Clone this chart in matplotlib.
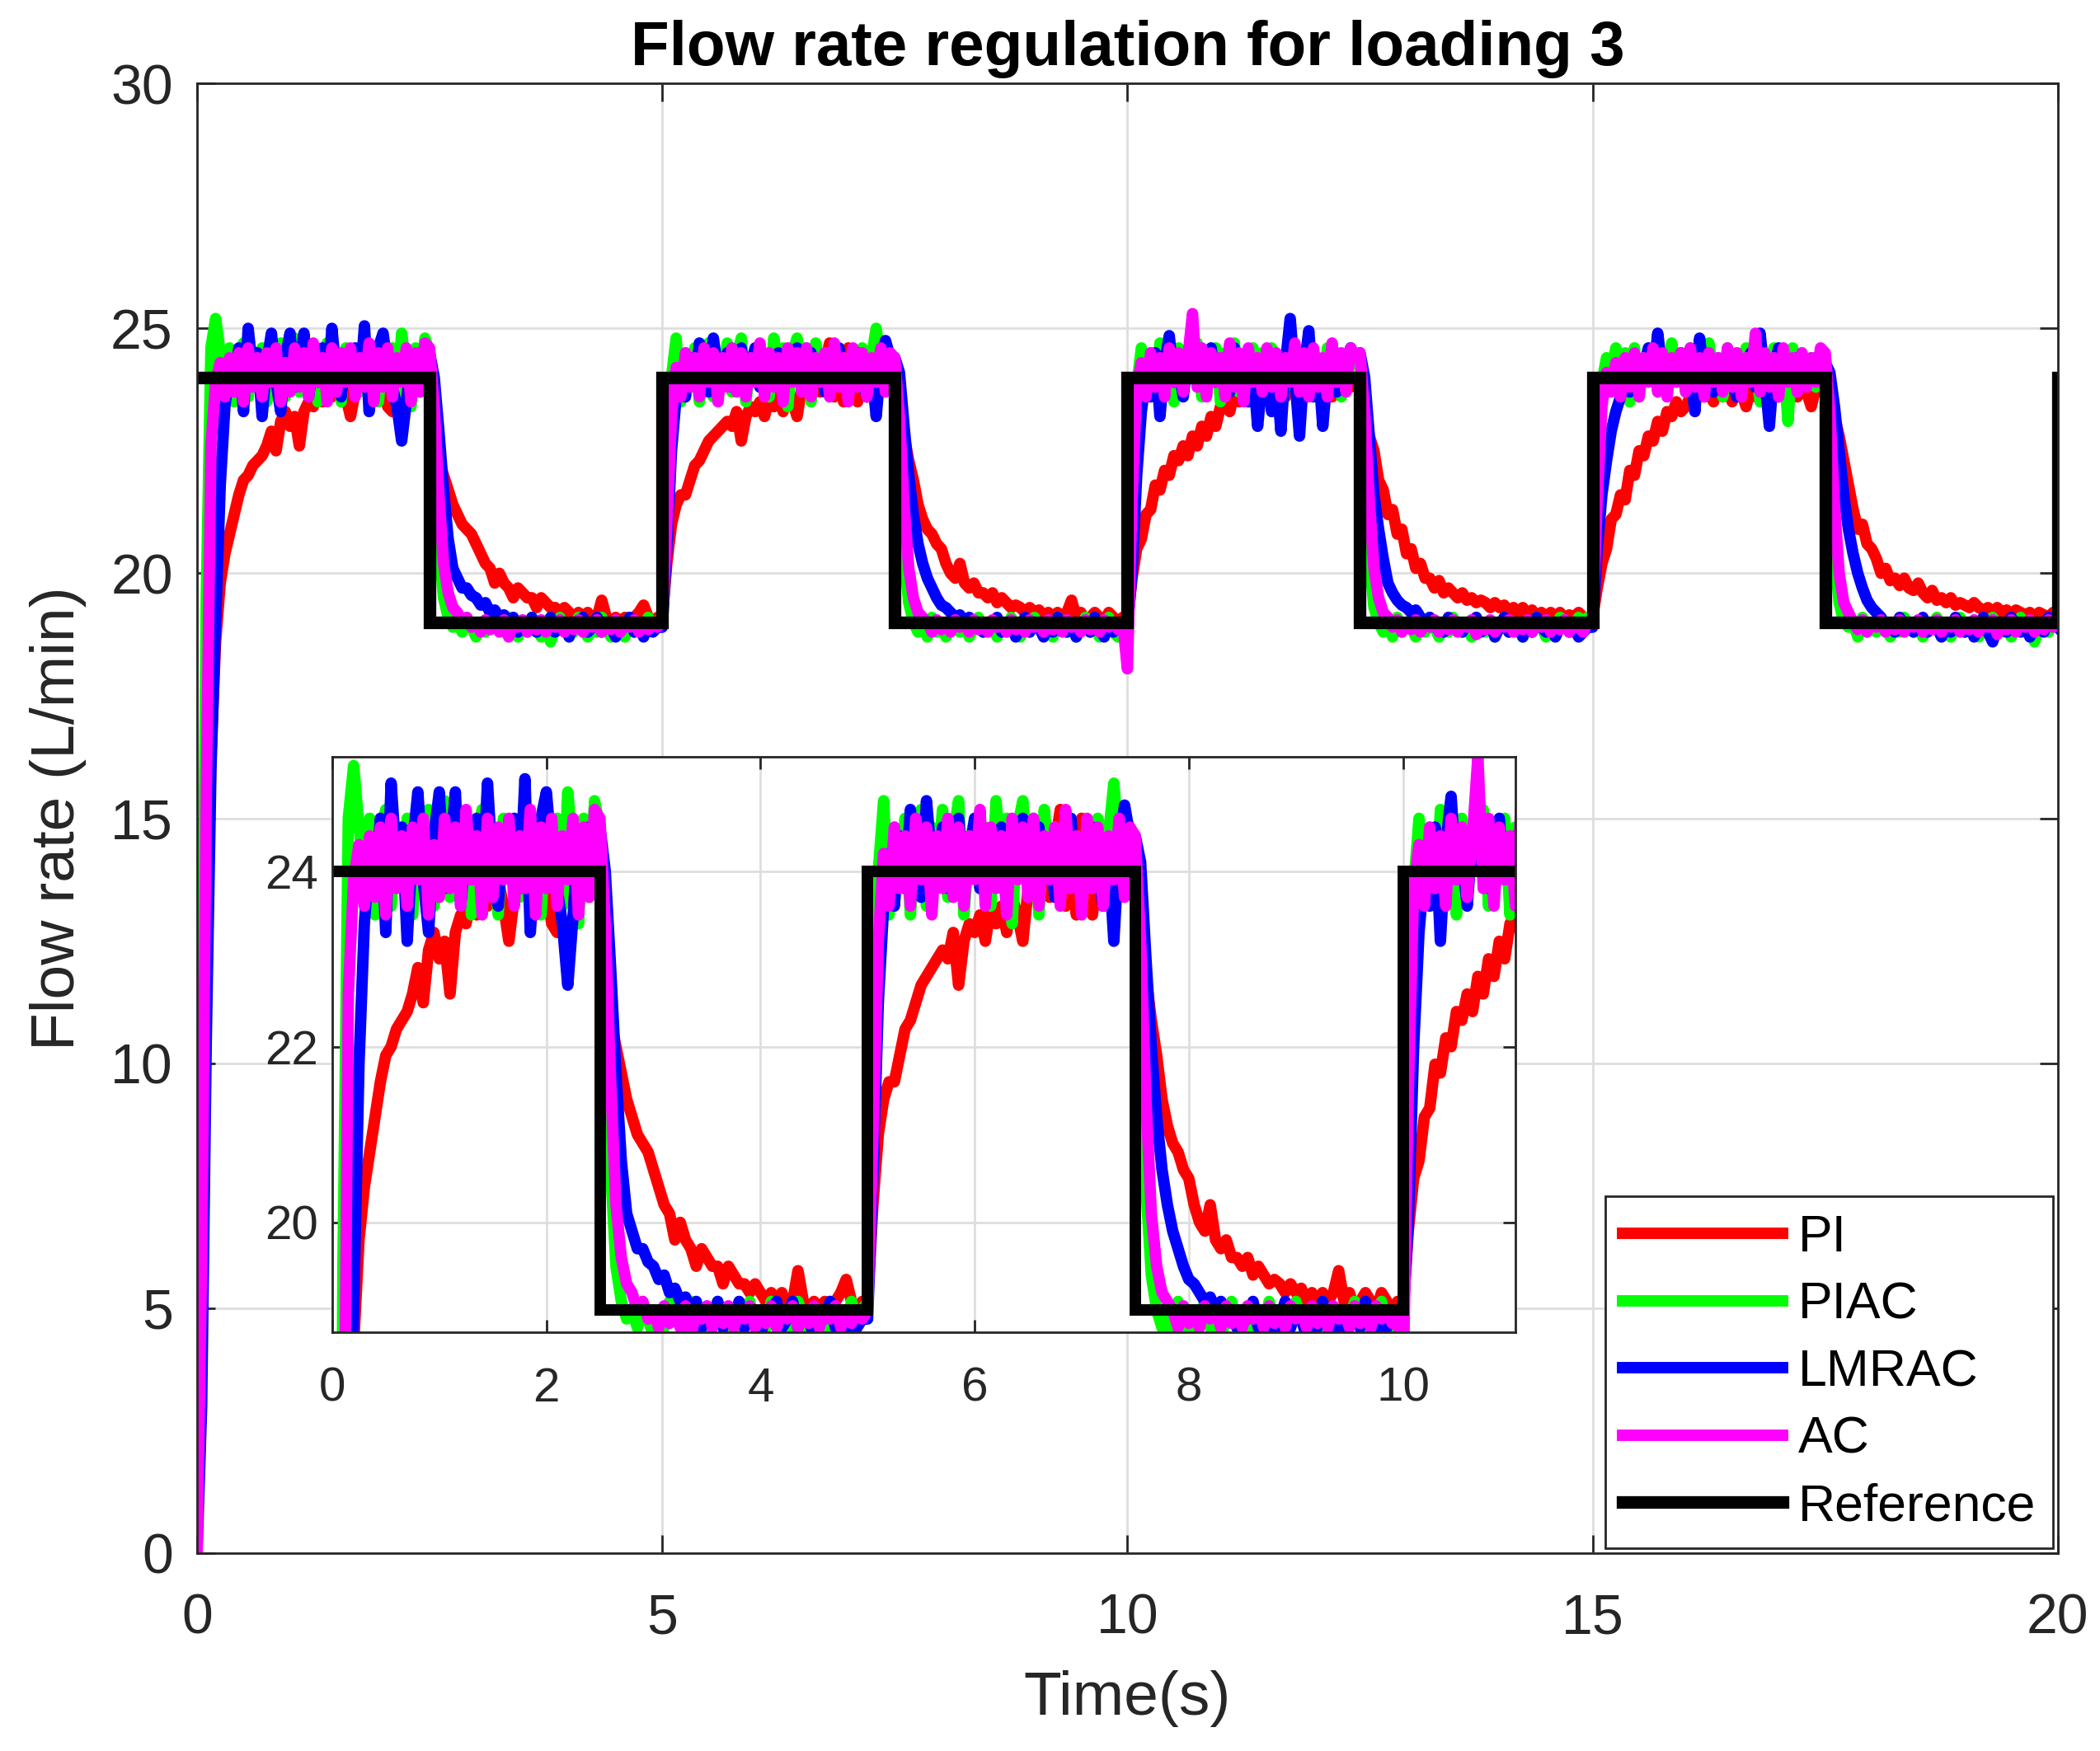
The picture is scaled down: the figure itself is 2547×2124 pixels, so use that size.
import numpy as np
import matplotlib.pyplot as plt

plt.rcParams['font.family'] = ['Liberation Sans', 'DejaVu Sans']

# samples every 0.05 s, 0 .. 20 s
sample_step = 0.05

pi_flow = [
    0.0, 6.0, 12.0, 16.3, 18.6, 19.8, 20.4, 20.8, 21.2, 21.6,
    21.9, 22.0, 22.2, 22.3, 22.4, 22.6, 22.9, 22.5, 23.1, 23.3,
    23.0, 23.2, 22.6, 23.3, 23.5, 23.4, 23.7, 23.5, 23.8, 23.6,
    23.7, 23.9, 23.6, 23.2, 23.7, 23.8, 24.0, 23.7, 23.9, 23.6,
    23.8, 23.4, 23.3, 23.7, 23.9, 23.6, 24.1, 23.8, 23.9, 24.0,
    23.8, 23.0, 22.3, 22.0, 21.7, 21.4, 21.2, 21.0, 20.9, 20.8,
    20.6, 20.4, 20.2, 20.1, 19.8, 20.0, 19.8, 19.7, 19.5, 19.7,
    19.6, 19.5, 19.5, 19.3, 19.5, 19.4, 19.3, 19.3, 19.2, 19.3,
    19.2, 19.1, 19.2, 19.1, 19.2, 19.0, 19.1, 19.45, 19.1, 19.0,
    19.1, 19.0, 19.1, 19.0, 19.1, 19.2, 19.35, 19.1, 19.0, 19.1,
    19.1, 20.2, 21.0, 21.4, 21.6, 21.6, 21.9, 22.2, 22.3, 22.5,
    22.7, 22.8, 22.9, 23.0, 23.1, 23.0, 23.3, 22.7, 23.2, 23.4,
    23.3, 23.5, 23.2, 23.6, 23.4, 23.6, 23.3, 23.7, 23.5, 23.2,
    23.8, 24.2, 23.6, 24.6, 23.7, 24.3, 24.7, 23.6, 24.5, 23.5,
    24.6, 23.7, 23.5, 24.0, 23.6, 23.9, 23.7, 24.1, 23.8, 24.0,
    23.9, 23.4, 22.8, 22.3, 21.9, 21.4, 21.1, 20.9, 20.8, 20.6,
    20.5, 20.2, 20.0, 19.9, 20.2, 19.8, 19.7, 19.8, 19.6, 19.6,
    19.5, 19.6, 19.4, 19.5, 19.4, 19.3, 19.35, 19.3, 19.2, 19.3,
    19.2, 19.25, 19.1, 19.2, 19.1, 19.2, 19.1, 19.2, 19.45, 19.1,
    19.2, 19.0, 19.1, 19.2, 19.1, 19.0, 19.2, 19.1, 19.0, 19.1,
    19.0, 19.9, 20.5, 20.7, 21.2, 21.3, 21.8, 21.7, 22.1, 22.0,
    22.4, 22.3, 22.6, 22.4, 22.8, 22.6, 23.0, 22.8, 23.2, 23.0,
    23.4, 23.5, 23.3, 23.7, 23.5, 23.8, 23.5, 23.9, 23.6, 23.9,
    23.6, 24.0, 23.7, 23.9, 23.6, 24.1, 23.8, 23.6, 24.0, 23.7,
    23.9, 23.6, 24.0, 23.8, 23.6, 24.1, 23.7, 24.0, 23.8, 24.0,
    23.9, 23.5, 22.8, 22.5, 21.9, 21.7, 21.2, 21.3, 20.8, 20.9,
    20.4, 20.5, 20.1, 20.2, 19.9, 19.9, 19.7, 19.85, 19.6, 19.7,
    19.6, 19.5, 19.6, 19.45, 19.5, 19.4, 19.45, 19.4, 19.3, 19.4,
    19.3, 19.35, 19.2, 19.3, 19.2, 19.3, 19.15, 19.25, 19.1, 19.2,
    19.1, 19.2, 19.1, 19.2, 19.05, 19.15, 19.1, 19.2, 19.1, 19.1,
    19.1, 19.7, 20.2, 20.5, 21.1, 21.2, 21.6, 21.5, 22.1, 22.0,
    22.5, 22.4, 22.8, 22.7, 23.1, 22.9, 23.3, 23.2, 23.5, 23.3,
    23.4, 23.6, 23.5, 23.8, 23.6, 23.7, 23.5, 23.9, 23.6, 23.8,
    23.5, 23.9, 23.7, 23.4, 23.8, 23.6, 23.9, 23.7, 23.5, 23.8,
    23.6, 23.9, 23.7, 23.8, 23.6, 23.9, 23.7, 23.4, 23.8, 23.9,
    23.9, 23.6, 23.2, 22.8, 22.3, 21.8, 21.3, 20.9, 21.0, 20.6,
    20.5, 20.3, 20.0, 20.1, 19.85, 19.9, 19.75, 19.9, 19.7, 19.65,
    19.8, 19.6, 19.5, 19.65, 19.45, 19.5, 19.4, 19.5, 19.35, 19.4,
    19.35, 19.3, 19.4, 19.3, 19.25, 19.3, 19.2, 19.3, 19.2, 19.25,
    19.15, 19.25, 19.2, 19.15, 19.2, 19.1, 19.2, 19.15, 19.1, 19.2,
    19.1,
]

piac_flow = [
    0.0, 9.0, 19.5, 24.6, 25.2, 24.5, 24.0, 24.6, 23.5, 24.4,
    24.7, 23.6, 24.5, 23.8, 24.6, 23.5, 24.4, 24.0, 24.7, 23.6,
    24.3, 24.8, 23.7, 24.5, 23.9, 24.6, 23.5, 24.3, 24.7, 23.8,
    24.4, 23.5, 24.6, 24.0, 24.5, 23.7, 24.6, 23.9, 24.3, 23.5,
    24.5, 24.0, 24.6, 23.6, 24.9, 24.2, 23.4, 24.6, 23.7, 24.8,
    24.5, 22.8, 20.6, 19.5, 19.1, 18.9, 19.0, 18.8, 19.1, 18.9,
    18.7, 19.0, 18.8, 19.1, 18.9, 19.0, 18.8, 19.1, 18.9, 18.7,
    19.0, 18.8, 19.1, 18.9, 18.7, 19.0, 18.6, 18.9, 19.1, 18.8,
    19.0, 18.8, 19.1, 18.9, 18.7, 19.0, 18.8, 19.1, 18.9, 18.7,
    19.0, 18.9, 18.7, 19.1, 18.8, 19.0, 18.8, 19.1, 18.9, 19.0,
    19.1, 22.0, 24.0, 24.8, 23.5, 24.5, 23.8, 24.6, 23.5, 24.4,
    24.7, 23.6, 24.5, 24.0, 24.7, 23.7, 24.4, 24.8, 23.5, 24.3,
    24.6, 23.8, 24.5, 23.6, 24.8, 24.0, 24.6, 23.4, 24.5, 24.8,
    23.9, 24.6, 23.5, 24.7, 24.1, 24.5, 23.7, 24.6, 23.9, 24.4,
    23.6, 24.5, 24.0, 24.6, 23.7, 24.4, 25.0, 24.2, 24.6, 24.5,
    24.3, 22.6, 20.4, 19.4, 19.0, 18.8, 19.0, 18.7, 19.1, 18.8,
    19.0, 18.7, 18.9, 19.1, 18.8, 19.0, 18.7, 18.9, 19.1, 18.8,
    19.0, 18.9, 18.7, 19.0, 18.8, 19.1, 18.9, 18.7, 19.0, 18.8,
    19.1, 18.9, 18.8, 19.0, 18.7, 19.1, 18.9, 18.8, 19.0, 18.7,
    18.9, 19.1, 18.8, 19.0, 18.7, 18.9, 19.1, 18.8, 18.7, 18.9,
    18.8, 21.5, 23.8, 24.6, 23.9, 24.5, 23.6, 24.7, 24.0, 24.4,
    23.5, 24.6, 23.8, 24.5, 24.1, 24.7, 23.6, 24.4, 23.9, 24.6,
    23.5, 24.5, 24.0, 24.7, 23.7, 24.4, 23.9, 24.6, 23.6, 24.5,
    24.1, 24.6, 23.5, 24.4, 23.8, 24.6, 24.0, 24.5, 23.6, 24.7,
    23.9, 24.4, 23.7, 24.6, 24.0, 24.5, 23.6, 24.4, 24.6, 24.3,
    24.2, 22.5, 20.3, 19.3, 19.0, 18.8, 19.0, 18.7, 19.1, 18.8,
    19.0, 18.9, 18.7, 19.0, 18.8, 19.1, 18.9, 18.7, 19.0, 18.8,
    19.1, 18.9, 18.8, 19.0, 18.7, 19.1, 18.9, 18.8, 19.0, 18.7,
    18.9, 19.1, 18.8, 19.0, 18.9, 18.7, 19.0, 18.8, 19.1, 18.9,
    18.7, 19.0, 18.8, 19.1, 18.9, 19.0, 18.8, 19.1, 19.0, 19.1,
    19.0, 22.2, 23.9, 24.4, 24.1, 24.6, 23.8, 24.5, 23.5, 24.6,
    23.6, 24.4, 24.0, 24.6, 23.8, 24.5, 23.9, 24.7, 24.0, 24.4,
    23.7, 24.6, 24.1, 24.5, 23.8, 24.7, 24.0, 24.4, 23.6, 24.6,
    24.1, 24.5, 23.9, 24.6, 24.0, 24.3, 23.5, 24.5, 24.0, 24.6,
    23.8, 24.4, 23.1, 24.6, 23.9, 24.5, 24.0, 24.4, 23.8, 24.3,
    24.2, 22.6, 20.4, 19.4, 19.0, 18.9, 19.0, 18.7, 19.1, 18.8,
    19.0, 18.8, 19.1, 18.9, 18.7, 19.0, 18.8, 19.1, 18.9, 18.8,
    19.0, 18.7, 19.0, 18.9, 19.1, 18.8, 19.0, 18.7, 18.9, 19.1,
    18.8, 19.0, 18.9, 18.7, 19.0, 18.8, 19.1, 18.9, 18.8, 19.0,
    18.7, 18.9, 19.1, 18.8, 19.0, 18.6, 18.9, 19.0, 18.8, 19.0,
    18.9,
]

lmrac_flow = [
    0.0, 3.0, 10.5, 16.0, 19.0, 21.8, 23.4, 24.2, 23.8, 24.6,
    23.3, 25.0, 24.1, 24.5, 23.2, 24.3, 24.9, 23.9, 23.3, 24.4,
    24.9, 23.8, 24.2, 24.9, 23.6, 24.3, 23.9, 24.6, 23.7, 25.0,
    24.0, 23.6, 24.4, 24.0, 24.6, 23.8, 25.05, 23.3, 24.2, 24.6,
    24.9, 24.2, 23.8, 23.4, 22.7, 23.5, 24.3, 23.9, 24.5, 24.2,
    24.5, 24.0, 22.9, 21.7, 20.7, 20.1, 19.9, 19.7, 19.7, 19.55,
    19.5, 19.35, 19.4, 19.2, 19.25, 19.1, 19.15, 18.9, 19.1, 18.8,
    19.0, 18.9, 19.1, 18.8, 19.0, 18.9, 19.1, 18.8, 19.0, 18.9,
    18.7, 19.0, 18.9, 19.1, 18.8, 18.9, 19.1, 18.8, 19.0, 18.9,
    18.7, 19.0, 18.9, 19.1, 18.8, 19.0, 18.7, 19.0, 18.8, 18.9,
    18.9, 20.5, 22.5, 23.6, 24.2, 23.6, 24.4, 23.8, 24.7, 24.0,
    23.7, 24.8, 24.1, 23.9, 24.5, 23.8, 24.3, 24.6, 23.9, 24.2,
    24.6, 23.8, 24.4, 23.9, 24.2, 24.5, 23.7, 24.3, 24.0, 24.6,
    23.8, 24.2, 24.5, 23.9, 24.3, 23.7, 24.4, 24.0, 24.6, 23.8,
    24.3, 23.9, 24.5, 24.0, 23.6, 24.2, 23.2, 24.3, 24.75, 24.4,
    24.4, 24.1, 23.0, 22.0, 21.2, 20.6, 20.2, 19.9, 19.7, 19.5,
    19.35, 19.3, 19.2, 19.1, 19.15, 19.0, 19.1, 18.9, 19.0, 18.8,
    19.0, 18.9, 19.1, 18.8, 18.9, 19.0, 18.7, 18.9, 19.1, 18.8,
    19.0, 18.9, 18.7, 19.0, 18.8, 19.1, 18.9, 18.8, 19.0, 18.7,
    18.9, 19.0, 18.8, 19.1, 18.9, 18.7, 19.0, 18.8, 19.0, 18.9,
    18.9, 20.0, 22.0, 23.3, 24.0, 23.6, 24.5, 23.2, 24.3, 24.85,
    23.9, 24.2, 23.6, 24.4, 24.0, 24.6, 23.8, 24.3, 24.6, 23.9,
    24.1, 24.4, 23.7, 24.6, 24.0, 24.3, 23.5, 24.2, 23.0, 24.0,
    24.4, 23.3, 24.1, 22.9, 24.3, 25.2, 24.0, 22.8, 24.2, 24.95,
    23.6, 24.3, 23.0, 24.1, 24.5, 23.7, 24.2, 23.9, 24.6, 24.4,
    24.5, 24.0, 22.8, 21.6, 20.9, 20.3, 19.8, 19.6, 19.45, 19.35,
    19.3, 19.2, 19.25, 19.1, 19.0, 19.1, 18.9, 19.0, 18.8, 19.1,
    18.9, 19.0, 18.8, 19.0, 18.9, 19.1, 18.8, 18.9, 19.0, 18.7,
    18.9, 19.1, 18.8, 19.0, 18.9, 18.7, 19.0, 18.8, 19.1, 18.9,
    18.8, 19.0, 18.7, 18.9, 19.0, 18.8, 18.9, 18.7, 18.8, 18.9,
    18.9, 20.5, 21.6, 22.3, 22.9, 23.3, 23.6, 24.1, 23.7, 24.4,
    23.9, 24.2, 24.6, 24.0, 24.9, 24.1, 23.7, 24.3, 24.0, 24.5,
    23.8, 24.2, 23.3, 24.8, 24.0, 24.4, 23.7, 24.2, 23.9, 24.5,
    24.0, 23.6, 24.3, 24.1, 24.5, 23.8, 24.9, 24.0, 23.0, 24.2,
    24.6, 23.9, 24.3, 24.0, 24.4, 23.8, 24.2, 24.0, 24.4, 24.3,
    24.3, 24.1, 23.4, 22.5, 21.6, 20.9, 20.4, 20.0, 19.7, 19.45,
    19.3, 19.2, 19.1, 18.9, 19.0, 18.8, 19.1, 18.9, 19.0, 18.8,
    18.9, 19.1, 18.8, 19.0, 18.9, 18.7, 19.0, 18.8, 19.1, 18.9,
    18.8, 19.0, 18.7, 18.9, 19.1, 18.8, 18.6, 18.9, 19.0, 18.8,
    19.1, 18.9, 18.8, 19.0, 18.7, 18.9, 19.0, 18.8, 19.1, 19.0,
    18.9,
]

ac_flow = [
    0.0, 6.0, 15.5, 22.6, 23.9, 24.3, 23.6, 24.4, 23.7, 24.5,
    23.5, 24.6, 23.8, 24.4, 23.6, 24.5, 23.9, 24.6, 23.5, 24.3,
    23.7, 24.6, 23.8, 24.5, 23.6, 24.7, 23.9, 24.4, 23.5, 24.6,
    23.7, 24.5, 23.9, 24.6, 23.6, 24.4, 23.8, 24.7, 23.5, 24.5,
    23.8, 24.6, 23.6, 24.4, 23.9, 24.6, 23.5, 24.5, 23.7, 24.7,
    24.6, 23.4, 21.6, 20.2, 19.6, 19.3, 19.2, 19.0, 19.1, 18.9,
    19.0, 18.8, 19.05, 18.85, 19.0, 18.8, 19.05, 18.7, 19.0, 18.9,
    19.05, 18.8, 19.0, 18.85, 19.05, 18.8, 19.0, 18.9, 19.05, 18.8,
    19.0, 18.85, 19.05, 18.8, 19.0, 18.9, 19.05, 18.8, 19.0, 18.85,
    19.05, 18.8, 19.0, 18.9, 19.05, 18.8, 19.0, 18.85, 19.0, 18.9,
    19.0, 21.0, 23.2, 24.2, 23.6, 24.5, 23.8, 24.4, 23.6, 24.6,
    23.9, 24.5, 23.5, 24.4, 23.8, 24.6, 23.7, 24.5, 23.6, 24.4,
    23.9, 24.7, 23.6, 24.5, 23.8, 24.4, 23.5, 24.6, 23.9, 24.5,
    23.7, 24.6, 23.6, 24.4, 23.9, 24.5, 23.6, 24.7, 23.8, 24.4,
    23.5, 24.6, 23.8, 24.5, 23.6, 24.4, 23.9, 24.6, 23.7, 24.5,
    24.4, 23.2, 21.4, 20.1, 19.5, 19.2, 19.1, 19.0, 18.8, 19.05,
    18.85, 19.0, 18.8, 19.05, 18.9, 19.0, 18.8, 19.05, 18.85, 19.0,
    18.8, 19.05, 18.9, 19.0, 18.8, 19.05, 18.85, 19.0, 18.8, 19.05,
    18.9, 19.0, 18.8, 19.05, 18.85, 19.0, 18.8, 19.05, 18.9, 19.0,
    18.8, 19.05, 18.85, 19.0, 18.8, 19.05, 18.9, 19.0, 18.85, 19.0,
    18.05, 21.5, 23.8, 24.3, 23.6, 24.5, 23.8, 24.4, 23.6, 24.6,
    23.9, 24.5, 23.7, 24.4, 25.3, 23.8, 24.6, 23.6, 24.5, 23.9,
    24.4, 23.6, 24.7, 23.8, 24.5, 23.5, 24.6, 23.9, 24.4, 23.7,
    24.6, 23.8, 24.5, 23.6, 24.4, 23.9, 24.7, 23.7, 24.5, 23.6,
    24.6, 23.8, 24.4, 23.6, 24.7, 23.9, 24.5, 23.7, 24.6, 24.4,
    24.5, 23.3, 21.5, 20.1, 19.5, 19.2, 19.1, 18.9, 19.05, 18.8,
    19.0, 18.85, 19.05, 18.8, 19.0, 18.9, 19.05, 18.8, 19.0, 18.85,
    19.05, 18.8, 19.0, 18.9, 19.05, 18.75, 19.0, 18.85, 19.05, 18.8,
    19.0, 18.9, 19.05, 18.8, 19.0, 18.85, 19.05, 18.8, 19.0, 18.9,
    19.05, 18.8, 19.0, 18.85, 19.05, 18.8, 19.0, 18.9, 18.8, 19.0,
    19.0, 21.5, 23.4, 24.1, 23.7, 24.3, 23.6, 24.4, 23.8, 24.5,
    23.6, 24.4, 23.9, 24.6, 23.7, 24.5, 23.6, 24.4, 23.9, 24.5,
    23.7, 24.6, 23.8, 24.4, 23.6, 24.5, 23.9, 24.4, 23.7, 24.6,
    23.8, 24.5, 23.6, 24.4, 23.9, 24.9, 23.7, 24.5, 23.8, 24.4,
    23.6, 24.6, 23.9, 24.4, 23.7, 24.5, 23.8, 24.4, 23.9, 24.6,
    24.5, 23.3, 21.4, 20.0, 19.4, 19.2, 19.0, 18.85, 19.05, 18.8,
    19.0, 18.9, 19.05, 18.8, 19.0, 18.85, 19.05, 18.8, 19.0, 18.9,
    19.05, 18.8, 19.0, 18.85, 19.05, 18.8, 19.0, 18.9, 19.05, 18.8,
    19.0, 18.85, 19.05, 18.8, 19.0, 18.9, 19.05, 18.75, 19.0, 18.85,
    19.05, 18.8, 19.0, 18.9, 19.05, 18.8, 19.0, 18.85, 19.05, 18.9,
    19.0,
]

# reference set-point (step changes)
ref_times = [0, 2.5, 5, 7.5, 10, 12.5, 15, 17.5, 20]
ref_levels = [24, 19, 24, 19, 24, 19, 24, 19, 24]

labels = ['PI', 'PIAC', 'LMRAC', 'AC', 'Reference']
colors = ['#ff0000', '#00ff00', '#0000ff', '#ff00ff', '#000000']

t = np.arange(len(pi_flow)) * sample_step
series = [pi_flow, piac_flow, lmrac_flow, ac_flow]

axis_col = '#262626'
grid_col = '#dedede'


def style_axes(a, size, ticklen, xpad, ypad):
    a.grid(True, color=grid_col, linewidth=2)
    a.tick_params(axis='x', direction='in', length=ticklen, width=2,
                  top=True, bottom=True, labelsize=size, pad=xpad,
                  color=axis_col, labelcolor=axis_col)
    a.tick_params(axis='y', direction='in', length=ticklen, width=2,
                  left=True, right=True, labelsize=size, pad=ypad,
                  color=axis_col, labelcolor=axis_col)
    for s in a.spines.values():
        s.set_linewidth(2)
        s.set_color(axis_col)


fig = plt.figure(figsize=(25.47, 21.24), dpi=100)
ax = fig.add_axes([0.0938, 0.1130, 0.8861, 0.8394])

for y, c, lab in zip(series, colors, labels):
    ax.plot(t, y, color=c, linewidth=10, label=lab)
ax.step(ref_times, ref_levels, where='post', color=colors[4], linewidth=11,
        solid_joinstyle='miter', label=labels[4])

ax.set_xlim(0, 20)
ax.set_ylim(0, 30)
ax.set_xticks([0, 5, 10, 15, 20])
ax.set_yticks([0, 5, 10, 15, 20, 25, 30])
style_axes(ax, 49, 16, 34, 21)
ax.set_xlabel('Time(s)', fontsize=54, color=axis_col, labelpad=22)
ax.set_ylabel('Flow rate (L/min)', fontsize=54, color=axis_col, labelpad=21)
ax.set_title('Flow rate regulation for loading 3', fontsize=55,
             fontweight='bold', pad=16)

leg = ax.legend(loc='lower right', fontsize=45, handlelength=3.1,
                handletextpad=0.3, labelspacing=0.36, borderpad=0.33,
                borderaxespad=0.1, fancybox=False, framealpha=1,
                edgecolor=axis_col)
leg.get_frame().set_linewidth(2)

# zoomed view of the first 11 s
ins = fig.add_axes([0.1582, 0.2392, 0.5634, 0.3286])
for y, c in zip(series, colors):
    ins.plot(t, y, color=c, linewidth=10)
ins.step(ref_times, ref_levels, where='post', color=colors[4], linewidth=10,
         solid_joinstyle='miter')
ins.set_xlim(0, 11.05)
ins.set_ylim(18.75, 25.3)
ins.set_xticks([0, 2, 4, 6, 8, 10])
ins.set_yticks([20, 22, 24])
style_axes(ins, 42, 10.5, 30, 12)

fig.savefig('out.png', dpi=100)
